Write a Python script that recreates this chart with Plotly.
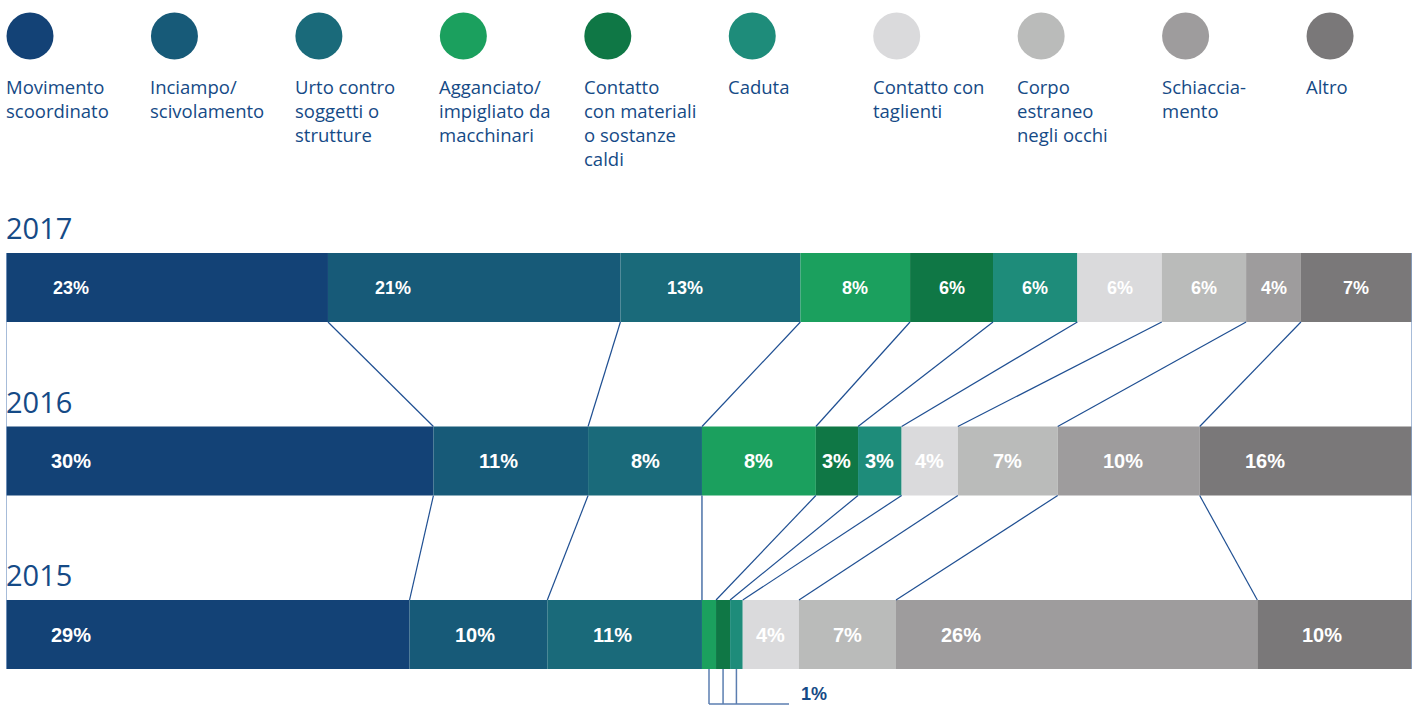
import plotly.graph_objects as go
import numpy as np

categories = ["Movimento<br>scoordinato", "Inciampo/<br>scivolamento", "Urto contro<br>soggetti o<br>strutture",
              "Agganciato/<br>impigliato da<br>macchinari", "Contatto<br>con materiali<br>o sostanze<br>caldi",
              "Caduta", "Contatto con<br>taglienti", "Corpo<br>estraneo<br>negli occhi", "Schiaccia-<br>mento", "Altro"]
colors = ["#134276", "#175a78", "#1a6a7a", "#1ba05e", "#0f7745", "#1e8c7a",
          "#dadadc", "#babbba", "#9e9c9d", "#7a7879"]
years = [2017, 2016, 2015]
# estimated shares (from segment widths)
values_2017 = [22.9, 20.8, 12.8, 7.8, 5.9, 6.0, 6.0, 6.0, 3.9, 7.9]
values_2016 = [30.4, 11.0, 8.1, 8.1, 3.0, 3.1, 4.0, 7.1, 10.1, 15.1]
values_2015 = [28.7, 9.8, 11.0, 1.0, 1.0, 0.9, 4.0, 6.9, 25.7, 11.0]
labels_2017 = ["23%", "21%", "13%", "8%", "6%", "6%", "6%", "6%", "4%", "7%"]
labels_2016 = ["30%", "11%", "8%", "8%", "3%", "3%", "4%", "7%", "10%", "16%"]
labels_2015 = ["29%", "10%", "11%", "", "", "", "4%", "7%", "26%", "10%"]
small_label = "1%"

values = {2017: values_2017, 2016: values_2016, 2015: values_2015}
labels = {2017: labels_2017, 2016: labels_2016, 2015: labels_2015}

W, H = 1416, 706
X0, X1 = 6, 1412
px_per_unit = (X1 - X0) / 100.0
y_top = 2018.657
y_bot = 2014.588
py_per_year = H / (y_top - y_bot)
BW = 69 / py_per_year  # bar thickness in year units

BLUE = "#154a86"
LINE = "#1f4f92"

fig = go.Figure()

# bars
for ci in range(len(categories)):
    xs, bases, ys = [], [], []
    for yr in years:
        v = values[yr]
        xs.append(v[ci])
        bases.append(sum(v[:ci]))
        ys.append(yr)
    fig.add_trace(go.Bar(x=xs, base=bases, y=ys, orientation="h", width=BW,
                         marker=dict(color=colors[ci], line=dict(width=0)),
                         showlegend=False, hoverinfo="skip"))

# bar labels
for yr in years:
    v = values[yr]
    cum = np.concatenate([[0], np.cumsum(v)])
    for ci, lab in enumerate(labels[yr]):
        if not lab:
            continue
        start = cum[ci]
        center = (cum[ci] + cum[ci + 1]) / 2
        xpos = min(start + 65 / px_per_unit, center)
        if yr == 2017:
            fnt = dict(family="Liberation Sans Narrow, Arial Narrow, Liberation Sans", size=18, color="white")
        else:
            fnt = dict(family="Liberation Sans, Arial", size=20, color="white")
        fig.add_annotation(x=xpos, y=yr, text="<b>%s</b>" % lab, showarrow=False,
                           xanchor="center", yanchor="middle", font=fnt)

# connectors between bars
for upper, lower in [(2017, 2016), (2016, 2015)]:
    cu = np.cumsum(values[upper])[:-1]
    cl = np.cumsum(values[lower])[:-1]
    lx, ly = [], []
    for a, b in zip(cu, cl):
        lx += [a, b, None]
        ly += [upper - BW / 2, lower + BW / 2, None]
    fig.add_trace(go.Scatter(x=lx, y=ly, mode="lines", line=dict(color=LINE, width=1.2),
                             showlegend=False, hoverinfo="skip"))

# outer edge lines
fig.add_trace(go.Scatter(x=[0, 0, None, 100, 100], y=[2017 + BW / 2, 2015 - BW / 2, None, 2017 + BW / 2, 2015 - BW / 2],
                         mode="lines", line=dict(color="#8aa6cc", width=1.5), showlegend=False, hoverinfo="skip"))

# bracket for small segments in 2015
cum15 = np.concatenate([[0], np.cumsum(values_2015)])
small_idx = [i for i, l in enumerate(labels_2015) if l == ""]
ybr = y_top - 704 / py_per_year
bx, by = [], []
for i in small_idx:
    c = (cum15[i] + cum15[i + 1]) / 2
    bx += [c, c, None]
    by += [2015 - BW / 2, ybr, None]
first_c = (cum15[small_idx[0]] + cum15[small_idx[0] + 1]) / 2
bx += [first_c, first_c + 80 / px_per_unit]
by += [ybr, ybr]
fig.add_trace(go.Scatter(x=bx, y=by, mode="lines", line=dict(color="#5b7eb0", width=1.5),
                         showlegend=False, hoverinfo="skip"))
fig.add_annotation(x=first_c + 90 / px_per_unit, y=ybr, text="<b>%s</b>" % small_label, showarrow=False,
                   xanchor="left", yanchor="middle", yshift=10,
                   font=dict(family="Liberation Sans, Arial", size=18, color=BLUE))

# year labels
for yr in years:
    fig.add_annotation(x=0, y=yr + BW / 2, text=str(yr), showarrow=False, xanchor="left", yanchor="bottom",
                       xshift=-2, yshift=4, font=dict(family="Open Sans", size=29, color=BLUE))

# legend (circles + text)
lx = [(30 + i * 144.45 - X0) / px_per_unit for i in range(len(categories))]
ly = [y_top - 36 / py_per_year] * len(categories)
fig.add_trace(go.Scatter(x=lx, y=ly, mode="markers", marker=dict(size=47, color=colors, line=dict(width=0)),
                         showlegend=False, hoverinfo="skip"))
for i, cat in enumerate(categories):
    fig.add_annotation(x=lx[i], y=y_top - 72 / py_per_year, text=cat, showarrow=False,
                       xanchor="left", yanchor="top", align="left", xshift=-26,
                       font=dict(family="Open Sans", size=18.5, color=BLUE))

fig.update_layout(width=W, height=H, margin=dict(l=0, r=0, t=0, b=0),
                  paper_bgcolor="white", plot_bgcolor="white", barmode="overlay",
                  xaxis=dict(range=[0, 100], domain=[X0 / W, X1 / W], visible=False, fixedrange=True),
                  yaxis=dict(range=[y_bot, y_top], domain=[0, 1], visible=False, fixedrange=True))
fig.write_html("out.html", config={"displayModeBar": False},
               post_script="document.body.style.margin='0';document.body.style.padding='0';")
